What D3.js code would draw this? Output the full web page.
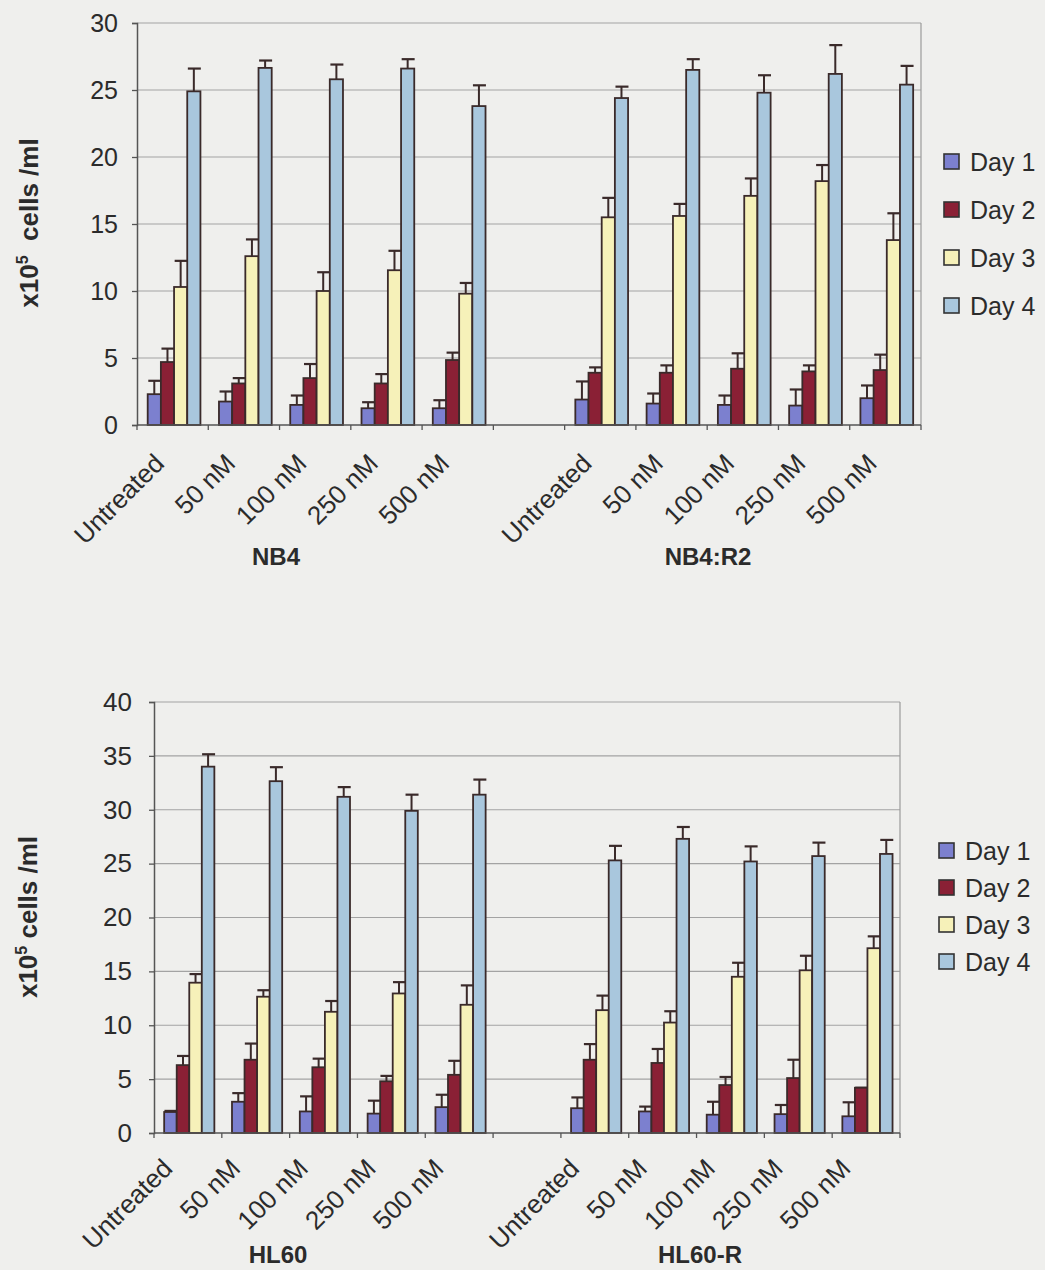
<!DOCTYPE html>
<html>
<head>
<meta charset="utf-8">
<script src="https://cdn.jsdelivr.net/npm/d3@7"></script>
<style>
  body { margin: 0; background: #efefed; }
  text { font-family: "Liberation Sans", Arial, sans-serif; fill: #2b2b2b; }
</style>
</head>
<body>
<div id="my_dataviz"></div>
<script>
// categories (empty slot between the two cell lines)
var categories = ["Untreated", "50 nM", "100 nM", "250 nM", "500 nM", "", "Untreated", "50 nM", "100 nM", "250 nM", "500 nM"];
var days = ["Day 1", "Day 2", "Day 3", "Day 4"];
var dayColors = ["#7c80cf", "#8a2035", "#f6f1b9", "#a9c7dd"];

// NB4 / NB4:R2
var nb4Day1 = [2.3, 1.75, 1.5, 1.25, 1.25, null, 1.9, 1.6, 1.5, 1.45, 2.0];
var nb4Day2 = [4.7, 3.1, 3.5, 3.1, 4.85, null, 3.9, 3.9, 4.2, 4.0, 4.1];
var nb4Day3 = [10.3, 12.6, 10.0, 11.55, 9.8, null, 15.5, 15.6, 17.1, 18.2, 13.8];
var nb4Day4 = [24.9, 26.65, 25.8, 26.6, 23.8, null, 24.4, 26.5, 24.8, 26.2, 25.4];
var nb4Err1 = [1.0, 0.75, 0.7, 0.45, 0.6, null, 1.35, 0.75, 0.7, 1.2, 0.95];
var nb4Err2 = [1.0, 0.4, 1.05, 0.7, 0.55, null, 0.4, 0.55, 1.15, 0.45, 1.15];
var nb4Err3 = [1.95, 1.25, 1.4, 1.45, 0.8, null, 1.45, 0.9, 1.3, 1.2, 2.0];
var nb4Err4 = [1.7, 0.55, 1.1, 0.7, 1.55, null, 0.85, 0.8, 1.3, 2.15, 1.4];

// HL60 / HL60-R
var hlDay1 = [1.95, 2.9, 2.0, 1.8, 2.4, null, 2.3, 2.0, 1.7, 1.75, 1.55];
var hlDay2 = [6.3, 6.8, 6.1, 4.8, 5.4, null, 6.8, 6.5, 4.45, 5.1, 4.2];
var hlDay3 = [13.95, 12.65, 11.25, 12.95, 11.9, null, 11.4, 10.25, 14.5, 15.1, 17.15];
var hlDay4 = [34.0, 32.65, 31.2, 29.9, 31.4, null, 25.3, 27.3, 25.2, 25.7, 25.9];
var hlErr1 = [0.1, 0.8, 1.4, 1.2, 1.15, null, 1.0, 0.45, 1.2, 0.85, 1.3];
var hlErr2 = [0.85, 1.5, 0.8, 0.5, 1.3, null, 1.45, 1.3, 0.75, 1.7, 0];
var hlErr3 = [0.8, 0.6, 1.0, 1.05, 1.8, null, 1.35, 1.05, 1.3, 1.35, 1.1];
var hlErr4 = [1.15, 1.3, 0.9, 1.5, 1.4, null, 1.35, 1.1, 1.4, 1.25, 1.3];

var topTicks = [0, 5, 10, 15, 20, 25, 30];
var bottomTicks = [0, 5, 10, 15, 20, 25, 30, 35, 40];

var svg = d3.select("#my_dataviz")
  .append("svg")
  .attr("width", 1045)
  .attr("height", 1270);

svg.append("rect").attr("width", 1045).attr("height", 1270).attr("fill", "#efefed");

function drawChart(c) {
  var x = d3.scaleBand().domain(d3.range(categories.length)).range([c.left, c.right]);
  var y = d3.scaleLinear().domain([0, c.max]).range([c.bottom, c.top]);
  var bw = x.bandwidth();
  var xSub = d3.scaleBand().domain(d3.range(4)).range([bw * 0.15, bw * 0.89]);

  var g = svg.append("g");

  // gridlines
  g.selectAll(".grid")
    .data(c.ticks.slice(1))
    .enter().append("line")
    .attr("x1", c.left).attr("x2", c.right)
    .attr("y1", function(d) { return y(d); })
    .attr("y2", function(d) { return y(d); })
    .attr("stroke", "#a3a3a3")
    .attr("stroke-width", 1.2);

  // plot border right
  g.append("line")
    .attr("x1", c.right).attr("x2", c.right)
    .attr("y1", c.top).attr("y2", c.bottom)
    .attr("stroke", "#9a9a9a").attr("stroke-width", 1.2);

  // y axis
  var yAxis = g.append("g")
    .attr("transform", "translate(" + c.left + ",0)")
    .call(d3.axisLeft(y).tickValues(c.ticks).tickSize(5).tickPadding(c.labelPad));
  yAxis.select(".domain").attr("stroke", "#555").attr("stroke-width", 1.5);
  yAxis.selectAll(".tick line").attr("stroke", "#555").attr("stroke-width", 1.3);
  yAxis.selectAll(".tick text")
    .attr("font-size", c.tickFont)
    .attr("fill", "#2b2b2b")
    .style("font-family", "Liberation Sans, Arial, sans-serif");

  // bars
  c.values.forEach(function(vals, di) {
    var errs = c.errors[di];
    var cols = d3.range(categories.length).filter(function(i) { return vals[i] != null; });

    g.selectAll(".err" + di)
      .data(cols)
      .enter().append("line")
      .attr("x1", function(i) { return x(i) + xSub(di) + xSub.bandwidth() / 2; })
      .attr("x2", function(i) { return x(i) + xSub(di) + xSub.bandwidth() / 2; })
      .attr("y1", function(i) { return y(vals[i]); })
      .attr("y2", function(i) { return y(vals[i] + errs[i]); })
      .attr("stroke", "#3a2a2a")
      .attr("stroke-width", 2);

    g.selectAll(".cap" + di)
      .data(cols)
      .enter().append("line")
      .attr("x1", function(i) { return x(i) + xSub(di) + xSub.bandwidth() / 2 - 6; })
      .attr("x2", function(i) { return x(i) + xSub(di) + xSub.bandwidth() / 2 + 7; })
      .attr("y1", function(i) { return y(vals[i] + errs[i]); })
      .attr("y2", function(i) { return y(vals[i] + errs[i]); })
      .attr("stroke", "#3a2a2a")
      .attr("stroke-width", 2.2);

    g.selectAll(".bar" + di)
      .data(cols)
      .enter().append("rect")
      .attr("x", function(i) { return x(i) + xSub(di); })
      .attr("width", xSub.bandwidth())
      .attr("y", function(i) { return y(vals[i]); })
      .attr("height", function(i) { return c.bottom - y(vals[i]); })
      .attr("fill", dayColors[di])
      .attr("stroke", "#3a2a2a")
      .attr("stroke-width", 1.8);
  });

  // x axis with ticks at category borders
  g.append("line")
    .attr("x1", c.left).attr("x2", c.right)
    .attr("y1", c.bottom).attr("y2", c.bottom)
    .attr("stroke", "#555").attr("stroke-width", 1.5);
  g.selectAll(".xtick")
    .data(d3.range(categories.length + 1))
    .enter().append("line")
    .attr("x1", function(i) { return c.left + i * bw; })
    .attr("x2", function(i) { return c.left + i * bw; })
    .attr("y1", c.bottom).attr("y2", c.bottom + 5)
    .attr("stroke", "#555").attr("stroke-width", 1.3);

  // rotated category labels
  g.selectAll(".xlabel")
    .data(d3.range(categories.length))
    .enter().append("text")
    .attr("transform", function(i) {
      return "translate(" + (x(i) + bw / 2 + c.labelDx) + "," + (c.bottom + c.labelDy) + ") rotate(-45)";
    })
    .attr("text-anchor", "end")
    .attr("font-size", 26)
    .text(function(i) { return categories[i]; });

  // cell line names
  c.groups.forEach(function(name, k) {
    g.append("text")
      .attr("x", c.groupX[k])
      .attr("y", c.groupY)
      .attr("text-anchor", "middle")
      .attr("font-size", 24)
      .attr("font-weight", "bold")
      .text(name);
  });

  // y axis title
  var title = g.append("text")
    .attr("transform", "translate(" + c.titleX + "," + c.titleY + ") rotate(-90)")
    .attr("text-anchor", "middle")
    .attr("font-size", 26)
    .attr("font-weight", "bold");
  title.append("tspan").text("x10");
  title.append("tspan").attr("font-size", 16).attr("dy", -10).text("5");
  title.append("tspan").attr("dy", 10).text(c.titleGap + "cells /ml");

  // legend
  days.forEach(function(d, di) {
    var ly = c.legendY + di * c.legendStep;
    g.append("rect")
      .attr("x", c.legendX).attr("y", ly - 8)
      .attr("width", 15).attr("height", 15)
      .attr("fill", dayColors[di])
      .attr("stroke", "#333").attr("stroke-width", 1.6);
    g.append("text")
      .attr("x", c.legendX + 26).attr("y", ly + 9)
      .attr("font-size", 25)
      .text(d);
  });
}

drawChart({
  left: 137, right: 921, top: 23, bottom: 425, max: 30, ticks: topTicks, labelPad: 14, tickFont: 25,
  values: [nb4Day1, nb4Day2, nb4Day3, nb4Day4],
  errors: [nb4Err1, nb4Err2, nb4Err3, nb4Err4],
  labelDx: -7, labelDy: 40,
  groups: ["NB4", "NB4:R2"], groupX: [276, 708], groupY: 565,
  titleX: 38, titleY: 223, titleGap: "\u00a0\u00a0",
  legendX: 944, legendY: 162, legendStep: 48
});

drawChart({
  left: 154, right: 900, top: 702, bottom: 1133, max: 40, ticks: bottomTicks, labelPad: 17, tickFont: 26,
  values: [hlDay1, hlDay2, hlDay3, hlDay4],
  errors: [hlErr1, hlErr2, hlErr3, hlErr4],
  labelDx: -14, labelDy: 37,
  groups: ["HL60", "HL60-R"], groupX: [278, 700], groupY: 1263,
  titleX: 37, titleY: 917, titleGap: "\u00a0",
  legendX: 939, legendY: 851, legendStep: 37
});
</script>
</body>
</html>
